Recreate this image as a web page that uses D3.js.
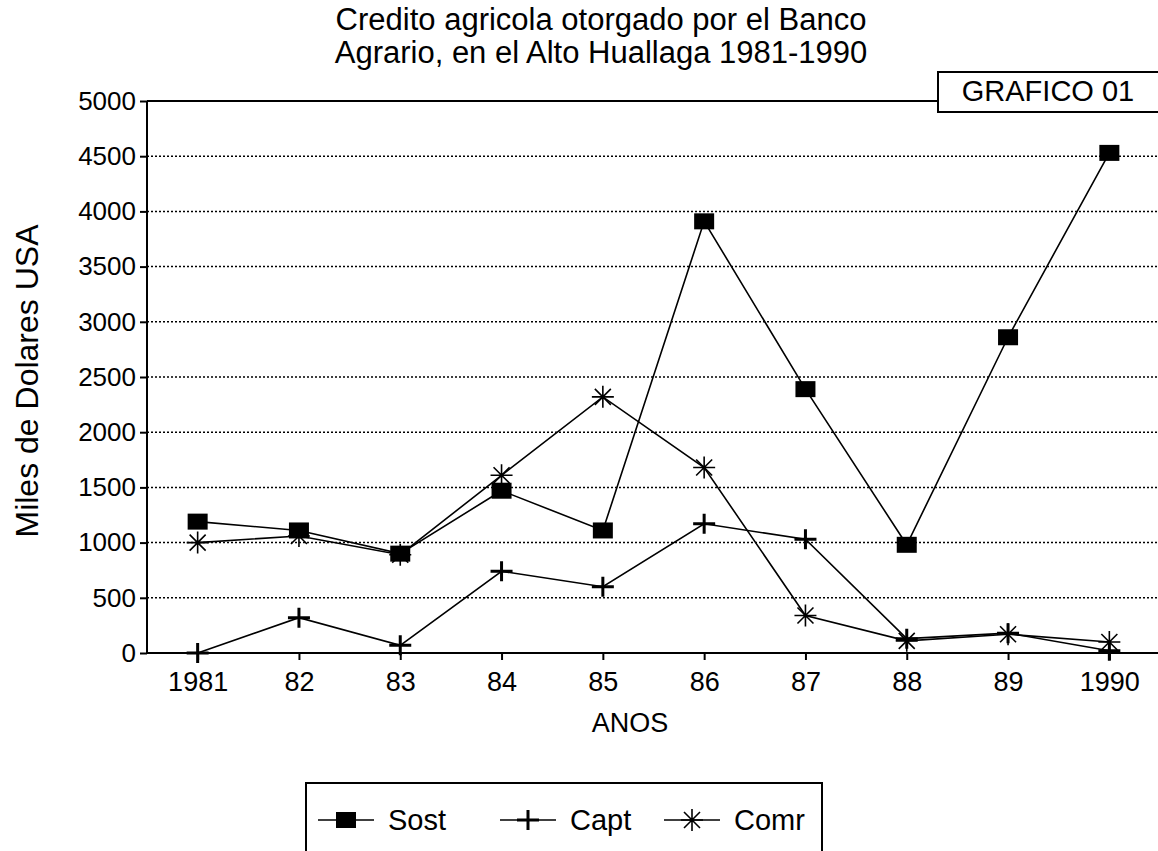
<!DOCTYPE html>
<html>
<head>
<meta charset="utf-8">
<script src="https://cdn.jsdelivr.net/npm/d3@7"></script>
<style>
  body { margin: 0; background: #fff; }
  svg { display: block; font-family: 'Liberation Sans', Arial, Helvetica, sans-serif; }
</style>
</head>
<body>
<svg id="chart" width="1158" height="851"></svg>
<script>
// values (miles de dolares USA)
const years = ['1981', '82', '83', '84', '85', '86', '87', '88', '89', '1990']
const sost = [1190, 1110, 900, 1470, 1110, 3910, 2390, 980, 2860, 4530]
const capt = [0, 320, 70, 740, 600, 1170, 1030, 130, 180, 20]
const comr = [1000, 1060, 890, 1610, 2320, 1680, 340, 110, 170, 100]
const yTicks = [0, 500, 1000, 1500, 2000, 2500, 3000, 3500, 4000, 4500, 5000]
const seriesNames = ['Sost', 'Capt', 'Comr']
const titleLines = ['Credito agricola otorgado por el Banco', 'Agrario, en el Alto Huallaga 1981-1990']

const series = [
  { name: seriesNames[0], values: sost, marker: 'square' },
  { name: seriesNames[1], values: capt, marker: 'plus' },
  { name: seriesNames[2], values: comr, marker: 'star' },
]

const svg = d3.select('#chart')
const margin = { left: 147, top: 101, right: -2, bottom: 198 }
const width = 1158, height = 851

const x = d3.scalePoint()
  .domain(years)
  .range([margin.left, width - margin.right])
  .padding(0.5)
const y = d3.scaleLinear()
  .domain([0, 5000])
  .range([height - margin.bottom, margin.top])

// title
svg.append('g')
  .attr('font-size', 31)
  .attr('text-anchor', 'middle')
  .selectAll('text')
  .data(titleLines)
  .join('text')
  .attr('x', 601)
  .attr('y', (d, i) => 30 + i * 33)
  .text(d => d)

// dotted gridlines
svg.append('g')
  .selectAll('line')
  .data(yTicks.filter(d => d > 0 && d < 5000))
  .join('line')
  .attr('x1', margin.left)
  .attr('x2', width)
  .attr('y1', d => y(d))
  .attr('y2', d => y(d))
  .attr('stroke', '#000')
  .attr('stroke-width', 1.5)
  .attr('stroke-dasharray', '2,2')

// top border of the plot frame
svg.append('line')
  .attr('x1', margin.left).attr('x2', 940)
  .attr('y1', y(5000)).attr('y2', y(5000))
  .attr('stroke', '#000').attr('stroke-width', 2)

// axes
const yAxis = d3.axisLeft(y).tickValues(yTicks).tickFormat(d3.format('d')).tickSize(7).tickPadding(4)
const xAxis = d3.axisBottom(x).tickSize(7).tickPadding(12)

const gy = svg.append('g')
  .attr('transform', `translate(${margin.left},0)`)
  .call(yAxis)
const gx = svg.append('g')
  .attr('transform', `translate(0,${y(0)})`)
  .call(xAxis)

;[gx, gy].forEach(g => {
  g.select('.domain').attr('stroke', '#000').attr('stroke-width', 2)
  g.selectAll('.tick line').attr('stroke', '#000').attr('stroke-width', 2)
  g.selectAll('text')
    .attr('fill', '#000')
    .attr('font-family', "'Liberation Sans', Arial, sans-serif")
})
gy.selectAll('text').attr('font-size', 26)
gx.selectAll('text').attr('font-size', 27)
gx.select('.domain').attr('d', `M${margin.left},0H${width}`)
gy.select('.domain').attr('d', `M0,${y(0)}V${y(5000)}`)

// axis titles
svg.append('text')
  .attr('x', 630)
  .attr('y', 732)
  .attr('text-anchor', 'middle')
  .attr('font-size', 27)
  .text('ANOS')
svg.append('text')
  .attr('transform', `translate(38,${(y(0) + y(5000)) / 2 + 4}) rotate(-90)`)
  .attr('text-anchor', 'middle')
  .attr('font-size', 32)
  .text('Miles de Dolares USA')

// marker drawing
function drawMarker(g, type) {
  if (type === 'square') {
    g.append('rect')
      .attr('x', -10).attr('y', -8)
      .attr('width', 20).attr('height', 16)
      .attr('fill', '#000')
  } else if (type === 'plus') {
    g.append('path')
      .attr('d', 'M-11,0H11M0,-10V10')
      .attr('stroke', '#000')
      .attr('stroke-width', 3)
  } else {
    g.append('path')
      .attr('d', 'M-11,0H11M0,-11V11M-8,-8L8,8M-8,8L8,-8')
      .attr('stroke', '#000')
      .attr('stroke-width', 1.6)
  }
}

const line = d3.line()
  .x((d, i) => x(years[i]))
  .y(d => y(d))

const gSeries = svg.append('g')
  .selectAll('g')
  .data(series)
  .join('g')

gSeries.append('path')
  .attr('d', d => line(d.values))
  .attr('fill', 'none')
  .attr('stroke', '#000')
  .attr('stroke-width', 1.6)

gSeries.each(function (s) {
  d3.select(this)
    .selectAll('g.mark')
    .data(s.values)
    .join('g')
    .attr('class', 'mark')
    .attr('transform', (d, i) => `translate(${x(years[i])},${y(d)})`)
    .each(function () { drawMarker(d3.select(this), s.marker) })
})

// "GRAFICO 01" box
const gBox = svg.append('g')
gBox.append('rect')
  .attr('x', 938).attr('y', 72)
  .attr('width', 240).attr('height', 40)
  .attr('fill', '#fff')
  .attr('stroke', '#000')
  .attr('stroke-width', 2)
gBox.append('text')
  .attr('x', 1048).attr('y', 101)
  .attr('text-anchor', 'middle')
  .attr('font-size', 29)
  .text('GRAFICO 01')

// legend
const legend = svg.append('g')
legend.append('path')
  .attr('d', 'M306,870V783H822V870')
  .attr('fill', 'none')
  .attr('stroke', '#000')
  .attr('stroke-width', 2)

const legendX = [318, 500, 664]
const li = legend.selectAll('g.item')
  .data(series)
  .join('g')
  .attr('class', 'item')
  .attr('transform', (d, i) => `translate(${legendX[i]},820)`)
li.append('line')
  .attr('x1', 0).attr('x2', 56)
  .attr('stroke', '#000').attr('stroke-width', 1.6)
li.append('g')
  .attr('transform', 'translate(28,0)')
  .each(function (d) { drawMarker(d3.select(this), d.marker) })
li.append('text')
  .attr('x', 70)
  .attr('y', 10)
  .attr('font-size', 29)
  .text(d => d.name)
</script>
</body>
</html>
